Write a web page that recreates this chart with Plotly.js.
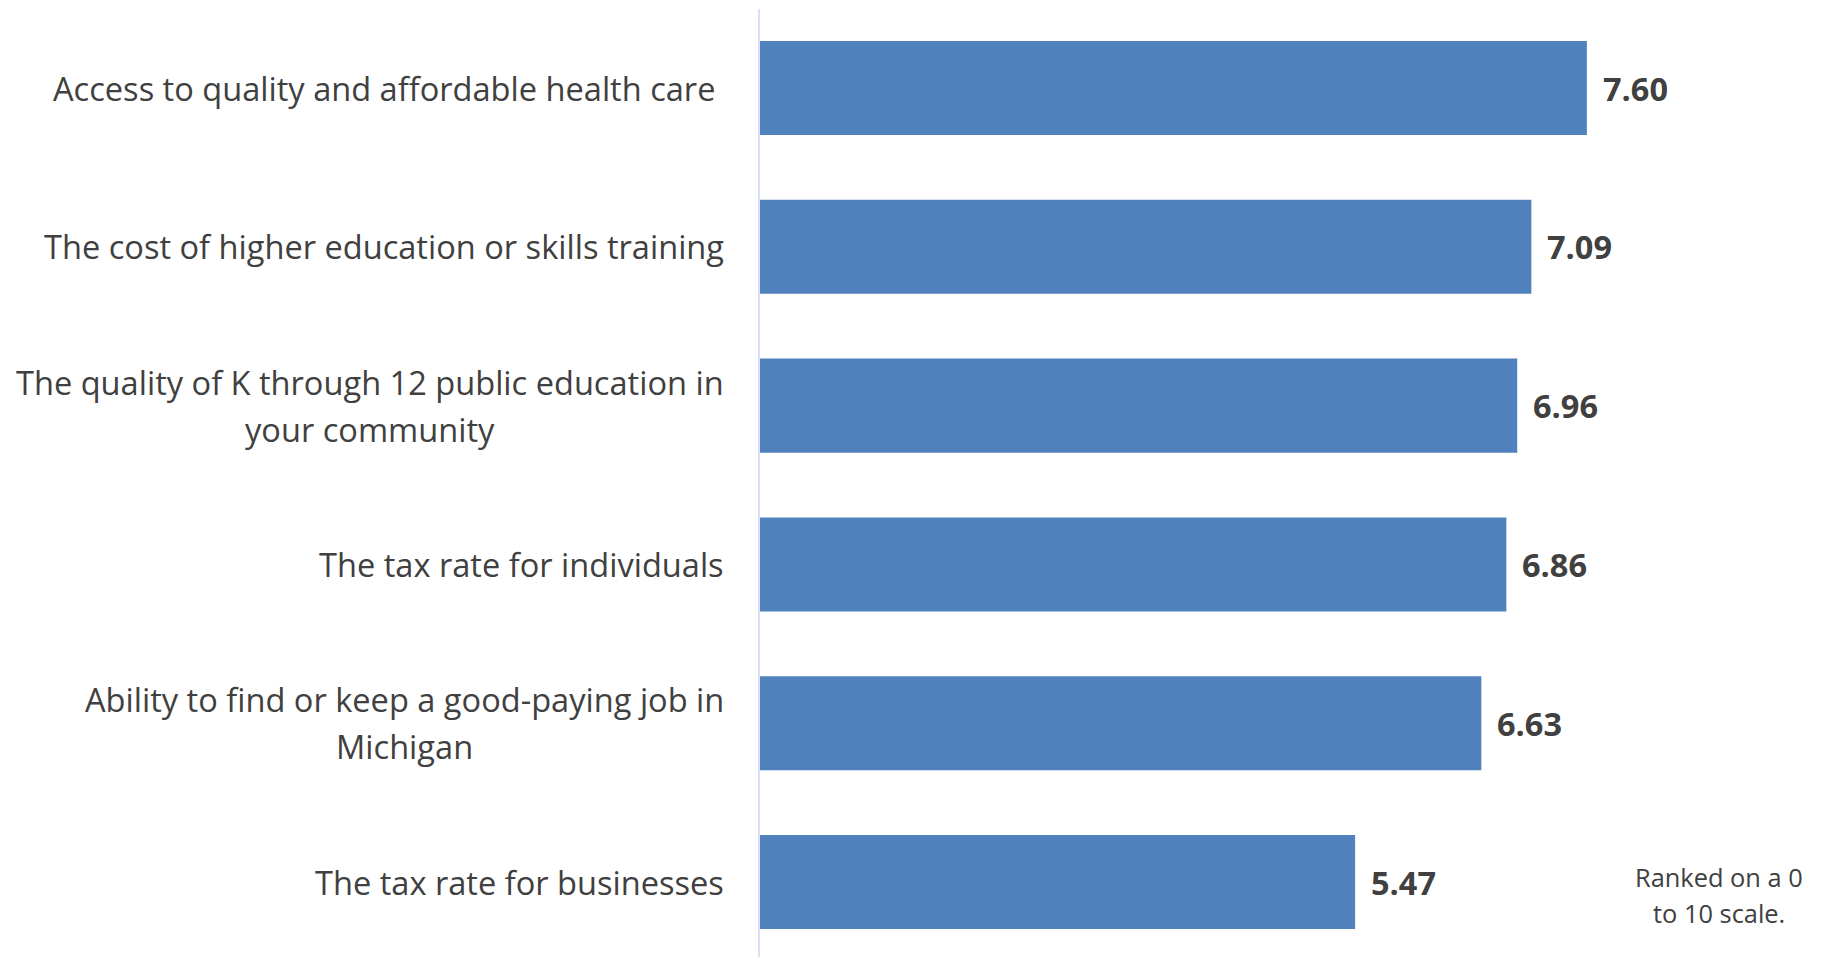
<!DOCTYPE html>
<html>
<head>
<meta charset="utf-8">
<script src="https://cdn.plot.ly/plotly-3.0.1.min.js"></script>
<style>
  html, body { margin: 0; padding: 0; background: #ffffff; }
  #chart { width: 1836px; height: 957px; }
</style>
</head>
<body>
<div id="chart"></div>
<script>
// ---- data ----
const categories = [
  "Access to quality and affordable health care ",
  "The cost of higher education or skills training",
  "The quality of K through 12 public education in<br>your community",
  "The tax rate for individuals",
  "Ability to find or keep a good-paying job in<br>Michigan",
  "The tax rate for businesses"
];
const values = [7.60, 7.09, 6.96, 6.86, 6.63, 5.47];
const noteText = ["Ranked on a 0", "to 10 scale."];

// ---- styling ----
const FONT = "'Open Sans', Lato, sans-serif";
const TEXT_COLOR = "#404040";
const BAR_COLOR = "#4F81BD";
const CAT_SIZE = 32.6;
const CAT_LINE = 47;
const VAL_SIZE = 32.5;
const NOTE_SIZE = 25.4;
const NOTE_LINE = 36;

const canvas = document.createElement("canvas");
const ctx = canvas.getContext("2d");
function textWidth(t, size, weight) {
  ctx.font = (weight || "normal") + " " + size + "px 'Open Sans'";
  return ctx.measureText(t).width;
}

const annotations = [];

// category labels (multi-line, centered block, right edge 36px left of axis)
categories.forEach((cat, i) => {
  const lines = cat.split("<br>").map(l => l.replace(/ +$/, m => "\u00a0".repeat(m.length)));
  const maxW = Math.max(...lines.map(l => textWidth(l, CAT_SIZE)));
  lines.forEach((line, k) => {
    annotations.push({
      xref: "paper", yref: "y",
      x: 0, y: cat,
      xanchor: "center", yanchor: "middle",
      xshift: -(36 + maxW / 2),
      yshift: ((lines.length - 1) / 2 - k) * CAT_LINE,
      text: line,
      showarrow: false,
      font: { family: FONT, size: CAT_SIZE, color: TEXT_COLOR }
    });
  });
});

// value labels
values.forEach((v, i) => {
  annotations.push({
    xref: "x", yref: "y",
    x: v, y: categories[i],
    xanchor: "left", yanchor: "middle",
    xshift: 14,
    text: v.toFixed(2),
    showarrow: false,
    font: { family: FONT, size: VAL_SIZE, color: TEXT_COLOR, weight: "bold" }
  });
});

// note
noteText.forEach((line, k) => {
  annotations.push({
    xref: "paper", yref: "paper",
    x: 0.891, y: 0.065,
    xanchor: "center", yanchor: "middle",
    yshift: ((noteText.length - 1) / 2 - k) * NOTE_LINE,
    text: line,
    showarrow: false,
    font: { family: FONT, size: NOTE_SIZE, color: TEXT_COLOR }
  });
});

const trace = {
  type: "bar",
  orientation: "h",
  x: values,
  y: categories,
  marker: { color: BAR_COLOR, line: { width: 0 } },
  hoverinfo: "x+y"
};

const layout = {
  width: 1836,
  height: 957,
  margin: { l: 760, r: 0, t: 9, b: 0, pad: 0 },
  paper_bgcolor: "#ffffff",
  plot_bgcolor: "#ffffff",
  showlegend: false,
  bargap: 0.408,
  font: { family: FONT, color: TEXT_COLOR },
  xaxis: {
    range: [0, 9.89],
    showgrid: false, zeroline: false, showticklabels: false,
    ticks: "", showline: false, fixedrange: true
  },
  yaxis: {
    type: "category",
    categoryorder: "array",
    categoryarray: categories,
    range: [5.472, -0.4975],
    showgrid: false, zeroline: false, showticklabels: false,
    ticks: "", showline: true, linecolor: "#D9E2F3", linewidth: 2,
    fixedrange: true
  },
  annotations: annotations
};

Plotly.newPlot("chart", [trace], layout, { displayModeBar: false, staticPlot: true });
</script>
</body>
</html>
